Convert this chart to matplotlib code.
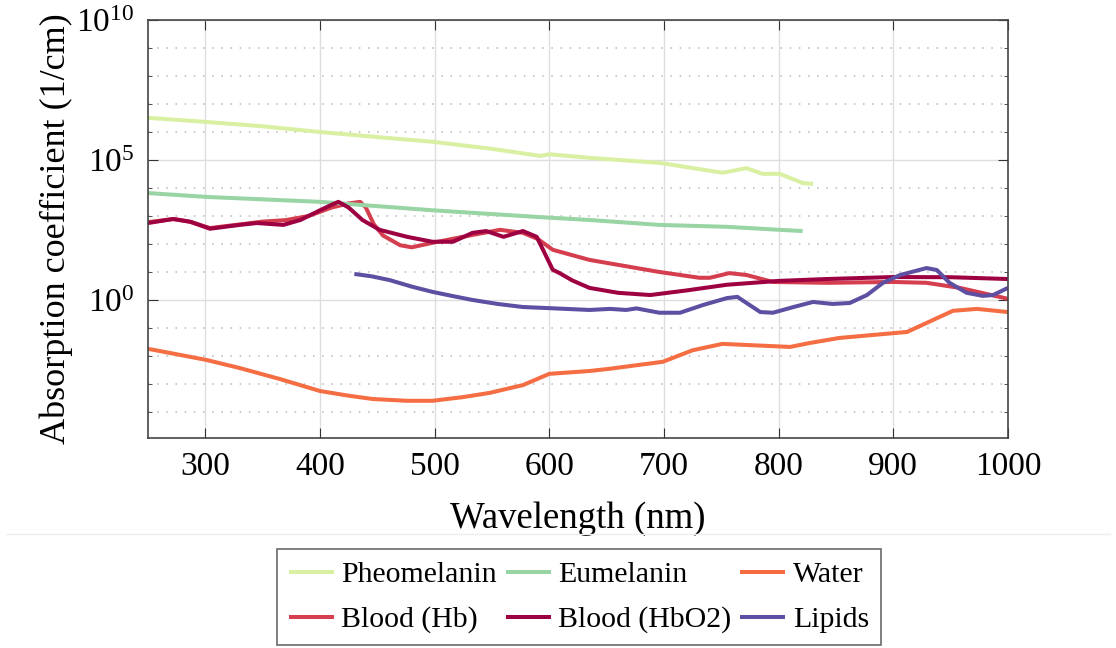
import numpy as np
import matplotlib
matplotlib.use("Agg")
import matplotlib.pyplot as plt
from matplotlib.ticker import FixedLocator, NullFormatter
from matplotlib.lines import Line2D

plt.rcParams['font.family'] = ['Liberation Serif', 'DejaVu Serif']
plt.rcParams['mathtext.fontset'] = 'custom'
plt.rcParams['mathtext.rm'] = 'Liberation Serif'
plt.rcParams['mathtext.it'] = 'Liberation Serif:italic'

# wavelengths (nm) and absorption coefficients (1/cm)
pheo_wl = [250, 300, 350, 400, 450, 500, 550, 592, 600, 635, 697, 751, 772, 786, 801, 821, 830]
pheo_mu = [3.2e6, 2.3e6, 1.6e6, 1.0e6, 6.6e5, 4.4e5, 2.5e5, 1.4e5, 1.6e5, 1.2e5, 7.8e4,
           3.5e4, 5.1e4, 3.2e4, 3.2e4, 1.5e4, 1.4e4]

eu_wl = [250, 301, 400, 498, 592, 635, 696, 755, 801, 821]
eu_mu = [6.6e3, 4.8e3, 3.2e3, 1.6e3, 910, 720, 480, 410, 320, 290]

water_wl = [250, 275, 301, 330, 365, 400, 425, 446, 476, 498, 525, 548, 565, 577, 600, 635,
            653, 699, 725, 751, 810, 827, 853, 912, 952, 973, 1000]
water_mu = [0.018, 0.0115, 0.0072, 0.0037, 0.0015, 0.00056, 0.00038, 0.00029, 0.00025,
            0.00025, 0.00034, 0.00048, 0.0007, 0.00091, 0.0023, 0.0029, 0.0035, 0.0062,
            0.016, 0.027, 0.021, 0.029, 0.044, 0.072, 0.41, 0.48, 0.37]

hb_wl = [250, 272, 287, 304, 330, 350, 370, 390, 410, 425, 435, 440, 447, 455, 470, 480,
         498, 533, 557, 577, 590, 603, 635, 696, 731, 740, 757, 772, 795, 842, 900, 929,
         958, 1000]
hb_mu = [600, 780, 620, 370, 500, 630, 710, 1000, 2000, 2800, 3200, 2000, 500, 200, 90, 76,
         110, 210, 320, 250, 150, 62, 27, 10, 6.2, 6.2, 9.1, 7.8, 4.4, 4.1, 4.4, 4.1, 2.7, 1.1]

hbo2_wl = [250, 272, 287, 304, 330, 345, 368, 383, 400, 410, 416, 425, 437, 452, 476, 498,
           516, 533, 545, 560, 577, 589, 603, 609, 620, 635, 660, 688, 720, 755, 800, 842,
           900, 950, 1000]
hbo2_mu = [560, 780, 620, 350, 480, 560, 480, 720, 1600, 2500, 3200, 2000, 720, 320, 180,
           120, 120, 250, 290, 180, 290, 180, 12, 9.1, 5.0, 2.7, 1.8, 1.5, 2.2, 3.5, 4.8,
           5.6, 6.6, 6.5, 5.6]

lip_wl = [430, 445, 461, 480, 498, 515, 533, 555, 577, 600, 635, 653, 667, 676, 696, 714,
          734, 755, 764, 772, 784, 795, 813, 830, 847, 862, 877, 891, 906, 929, 938, 949,
          964, 978, 987, 1000]
lip_mu = [8.5, 7.0, 5.1, 3.0, 1.95, 1.4, 1.0, 0.72, 0.56, 0.51, 0.44, 0.48, 0.44, 0.5, 0.35,
          0.35, 0.66, 1.17, 1.29, 0.78, 0.37, 0.35, 0.56, 0.85, 0.72, 0.78, 1.5, 4.1, 7.8,
          13.8, 11.7, 4.1, 1.8, 1.4, 1.5, 2.7]

fig = plt.figure(figsize=(11.16, 6.48), dpi=100)
ax = fig.add_axes([0.1326, 0.3241, 0.7706, 0.645])

lw = 2.9
kw = dict(lw=lw, solid_joinstyle='round', solid_capstyle='butt')
ax.plot(pheo_wl, pheo_mu, color='#d9f0a3', label='Pheomelanin', **kw)
ax.plot(hb_wl, hb_mu, color='#d53e4f', label='Blood (Hb)', **kw)
ax.plot(eu_wl, eu_mu, color='#99d5a4', label='Eumelanin', **kw)
ax.plot(hbo2_wl, hbo2_mu, color='#9e0142', label='Blood (HbO2)', **kw)
ax.plot(water_wl, water_mu, color='#f46d43', label='Water', **kw)
ax.plot(lip_wl, lip_mu, color='#5e4fa2', label='Lipids', **kw)

ax.set_yscale('log')
ax.set_xlim(250, 1000)
ax.set_ylim(10**-4.93, 1e10)
ax.set_xticks(range(300, 1001, 100))
ax.set_yticks([1e0, 1e5, 1e10])
ax.set_yticklabels([r'$10^0$', r'$10^5$', r'$10^{10}$'])
ax.yaxis.set_minor_locator(FixedLocator([10.0**k for k in range(-5, 11)]))
ax.yaxis.set_minor_formatter(NullFormatter())

ax.grid(True, which='major', color='#dedede', lw=1.0, ls='-')
ax.grid(True, which='minor', axis='y', color='#b8b8b8', lw=1.1, ls=(0, (1, 5)))
ax.set_axisbelow(True)

ax.tick_params(which='both', direction='in', top=True, right=True, labelsize=24,
               color='#333333', pad=10)
ax.tick_params(which='major', length=7)
ax.tick_params(which='minor', length=3)
for s in ax.spines.values():
    s.set_color('#444444')
    s.set_linewidth(1.2)

ax.set_xlabel('Wavelength (nm)', fontsize=26.5, labelpad=14)
ax.set_ylabel('Absorption coefficient (1/cm)', fontsize=26, labelpad=2)

# faint separator line above legend
fig.add_artist(Line2D([0.005, 0.995], [1 - 534 / 648] * 2, color='#eeeeee', lw=1))

leg = fig.legend(loc='lower center', bbox_to_anchor=(579 / 1116, -0.019), ncol=3,
                 fontsize=21.5, frameon=True, fancybox=False, edgecolor='#444444',
                 handlelength=1.5, columnspacing=0.3, handletextpad=0.25,
                 borderpad=0.4, labelspacing=0.6)
leg.get_frame().set_linewidth(1.2)

fig.savefig('out.png', dpi=100)
